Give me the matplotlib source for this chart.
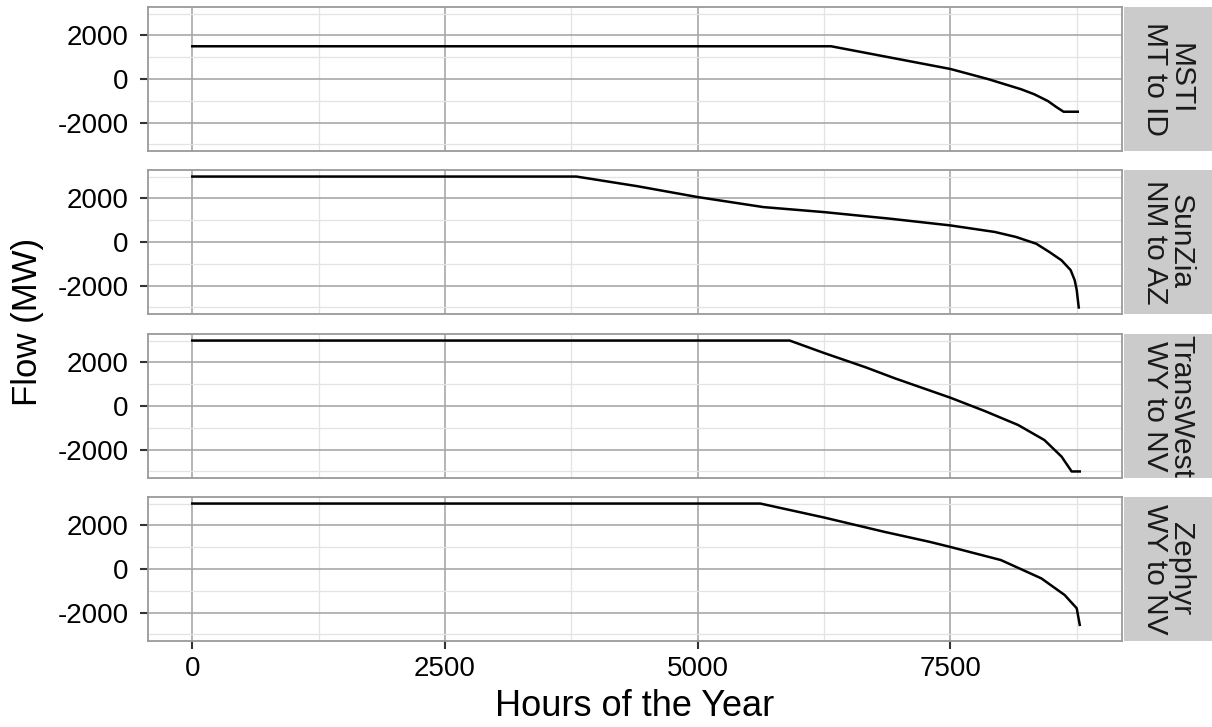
import matplotlib
matplotlib.use("Agg")
import matplotlib.pyplot as plt

plt.rcParams["font.family"] = ["Liberation Sans", "DejaVu Sans"]

# load-duration curves (hours of year, flow in MW)
msti_h = [0, 6320, 6820, 7500, 7870, 8200, 8330, 8465, 8550, 8620, 8760]
msti_f = [1500, 1500, 1060, 460, 0, -470, -700, -1010, -1290, -1500, -1500]

sunzia_h = [0, 3800, 4400, 5000, 5650, 6250, 6900, 7500, 7940, 8150, 8350, 8480, 8600, 8690, 8730, 8750, 8770]
sunzia_f = [3000, 3000, 2560, 2060, 1600, 1370, 1070, 760, 460, 230, -80, -460, -840, -1290, -1750, -2200, -3000]

transwest_h = [0, 5910, 6250, 6670, 6950, 7500, 7840, 8170, 8430, 8600, 8700, 8780]
transwest_f = [3000, 3000, 2430, 1760, 1270, 380, -230, -870, -1560, -2320, -3000, -3000]

zephyr_h = [0, 5620, 6250, 6850, 7290, 7500, 8000, 8400, 8630, 8750, 8780]
zephyr_f = [3000, 3000, 2360, 1700, 1250, 1010, 410, -430, -1190, -1800, -2560]

strip_labels = ["MSTI\nMT to ID", "SunZia\nNM to AZ", "TransWest\nWY to NV", "Zephyr\nWY to NV"]
series = [(msti_h, msti_f), (sunzia_h, sunzia_f), (transwest_h, transwest_f), (zephyr_h, zephyr_f)]
x_ticks = [0, 2500, 5000, 7500]
x_minor = [1250, 3750, 6250, 8750]
y_ticks = [-2000, 0, 2000]
y_minor = [-3000, -1000, 1000, 3000]

W, H = 1212, 727
fig = plt.figure(figsize=(W / 100, H / 100), dpi=100, facecolor="white")

L, R = 148, 1122
tops = [7, 170, 334, 497]; ph = 144
MAJ = "#a8a8a8"; MIN = "#e3e3e3"; BORDER = "#9a9a9a"; STRIP = "#cbcbcb"

for i, ((hx, fy), lab) in enumerate(zip(series, strip_labels)):
    t = tops[i]
    ax = fig.add_axes([L / W, 1 - (t + ph) / H, (R - L) / W, ph / H])
    ax.set_xlim(-438, 9198); ax.set_ylim(-3300, 3300)
    ax.set_xticks(x_ticks); ax.set_xticks(x_minor, minor=True)
    ax.set_yticks(y_ticks); ax.set_yticks(y_minor, minor=True)
    ax.grid(which="major", color=MAJ, lw=1.2)
    ax.grid(which="minor", color=MIN, lw=0.9)
    ax.set_axisbelow(True)
    ax.plot(hx, fy, color="black", lw=1.8, solid_joinstyle="round")
    for s in ax.spines.values():
        s.set_color(BORDER); s.set_linewidth(1.3)
    ax.tick_params(axis="y", which="major", length=6, width=1.5, color="#333333",
                   labelsize=20, pad=8, labelcolor="black")
    ax.tick_params(which="minor", length=0)
    if i < 3:
        ax.tick_params(axis="x", which="major", length=0, labelbottom=False)
    else:
        ax.tick_params(axis="x", which="major", length=6, width=1.5, color="#333333",
                       labelsize=20, pad=5, labelcolor="black")
    ax.set_yticklabels([str(v) for v in y_ticks])
    # facet strip
    sa = fig.add_axes([(R + 2) / W, 1 - (t + ph) / H, (W - R - 2) / W, ph / H])
    sa.set_facecolor(STRIP); sa.set_xticks([]); sa.set_yticks([])
    for s in sa.spines.values():
        s.set_visible(False)
    sa.text(0.5, 0.5, lab, rotation=270, ha="center", va="center", fontsize=21.5,
            color="#1a1a1a", linespacing=0.9, transform=sa.transAxes, clip_on=True)

fig.text(27 / W, 1 - 322 / H, "Flow (MW)", rotation=90, ha="center", va="center", fontsize=25)
fig.text(635 / W, 1 - 707 / H, "Hours of the Year", ha="center", va="center", fontsize=26)

fig.savefig("out.png", dpi=100, facecolor="white")
